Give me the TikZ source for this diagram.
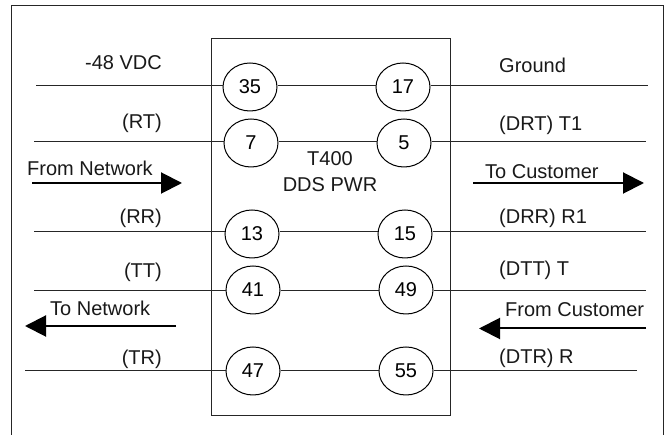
\documentclass[tikz,border=0pt]{standalone}
\usepackage{fontspec}
\setmainfont{Liberation Sans}
\usetikzlibrary{shapes.geometric,arrows.meta}
\tikzset{
  pin/.style={draw=black,fill=white,ellipse,minimum width=54pt,minimum height=48pt,inner sep=0pt,line width=1pt,font=\fontsize{20}{22}\selectfont},
  wire/.style={draw=black!85,line width=1pt},
  sig/.style={draw=black,line width=2pt,-{Triangle[length=21pt,width=21pt]}},
  lab/.style={inner sep=0pt,font=\fontsize{20}{22}\selectfont,text=black!90},
  labr/.style={lab,anchor=base east},
  labl/.style={lab,anchor=base west},
  frame/.style={draw=black!85,line width=1pt}
}
\begin{document}
\begin{tikzpicture}[x=1pt,y=-1pt]
\useasboundingbox (0,0) rectangle (665,435);
\draw[frame] (11,435) -- (11,6) -- (663.5,6) -- (663.5,435);
\node[draw=black!85,line width=1pt,minimum width=239pt,minimum height=377pt,inner sep=0pt,anchor=north west] (box) at (210.5,38.5) {};
\node[pin] (p35) at (250,87) {35};
\node[pin] (p7)  at (251,143) {7};
\node[pin] (p13) at (252,234) {13};
\node[pin] (p41) at (253,290) {41};
\node[pin] (p47) at (253,371) {47};
\node[pin] (p17) at (403,87) {17};
\node[pin] (p5)  at (404,143) {5};
\node[pin] (p15) at (405,234) {15};
\node[pin] (p49) at (406,290) {49};
\node[pin] (p55) at (406,371) {55};
\coordinate (l1) at (36,86); \coordinate (r1) at (648,86);
\coordinate (l2) at (34,142); \coordinate (r2) at (646,142);
\coordinate (l3) at (34,232); \coordinate (r3) at (646,232);
\coordinate (l4) at (34,290.5); \coordinate (r4) at (646,290.5);
\coordinate (l5) at (25,370.5); \coordinate (r5) at (637,370.5);
\draw[wire] (l1) -- (p35.west|-l1) (p35.east|-l1) -- (p17.west|-l1) (p17.east|-l1) -- (r1);
\draw[wire] (l2) -- (p7.west|-l2) (p7.east|-l2) -- (p5.west|-l2) (p5.east|-l2) -- (r2);
\draw[wire] (l3) -- (p13.west|-l3) (p13.east|-l3) -- (p15.west|-l3) (p15.east|-l3) -- (r3);
\draw[wire] (l4) -- (p41.west|-l4) (p41.east|-l4) -- (p49.west|-l4) (p49.east|-l4) -- (r4);
\draw[wire] (l5) -- (p47.west|-l5) (p47.east|-l5) -- (p55.west|-l5) (p55.east|-l5) -- (r5);
\coordinate (a1s) at (32,183); \coordinate (a1e) at (182,183);
\coordinate (a2s) at (473,183); \coordinate (a2e) at (644,183);
\coordinate (a3s) at (176,326); \coordinate (a3e) at (25,326);
\coordinate (a4s) at (646,328.5); \coordinate (a4e) at (479,328.5);
\draw[sig] (a1s) -- (a1e);
\draw[sig] (a2s) -- (a2e);
\draw[sig] (a3s) -- (a3e);
\draw[sig] (a4s) -- (a4e);
\node[labr] (t1) at (162,70) {-48 VDC};
\node[labr] (t2) at (162,129) {(RT)};
\node[labl] (t3) at (27,176) {From Network};
\node[labr] (t4) at (162,224) {(RR)};
\node[labr] (t5) at (162,278) {(TT)};
\node[labl] (t6) at (50,316) {To Network};
\node[labr] (t7) at (162,365) {(TR)};
\node[labl] (t8) at (499,73) {Ground};
\node[labl] (t9) at (499,131) {(DRT) T1};
\node[labl] (t10) at (485,179) {To Customer};
\node[labl] (t11) at (499,224) {(DRR) R1};
\node[labl] (t12) at (499,276) {(DTT) T};
\node[labl] (t13) at (505,317) {From Customer};
\node[labl] (t14) at (499,364) {(DTR) R};
\node[lab,anchor=base] (t15) at (330,166) {T400};
\node[lab,anchor=base] (t16) at (330,192) {DDS PWR};
\end{tikzpicture}
\end{document}
